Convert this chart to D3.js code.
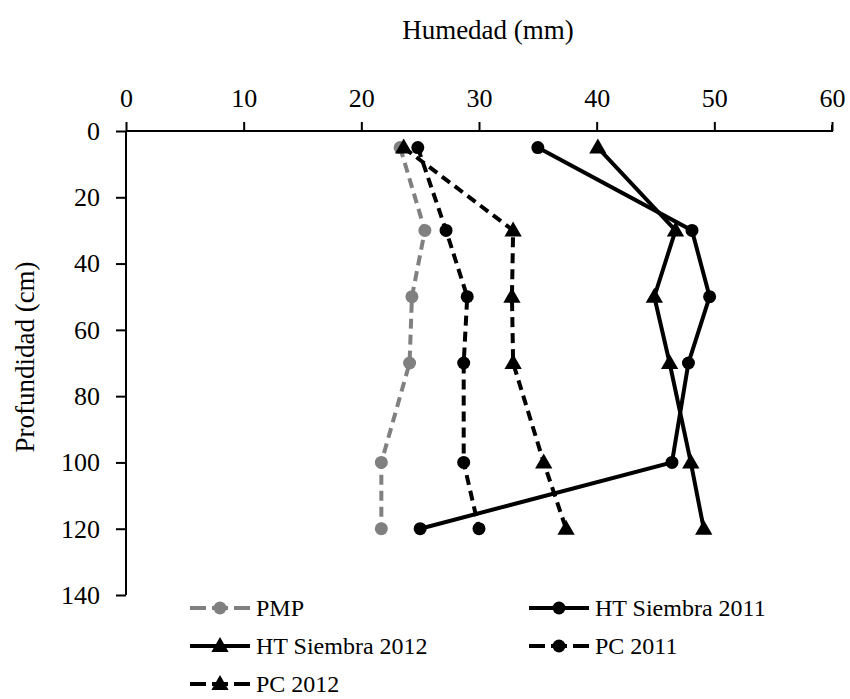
<!DOCTYPE html>
<html>
<head>
<meta charset="utf-8">
<script src="https://cdn.jsdelivr.net/npm/d3@7"></script>
<style>
  body { margin: 0; background: #fff; }
</style>
</head>
<body>
<div id="chart"></div>
<script>
// depth (cm) and moisture (mm) per series
const depths = [5, 30, 50, 70, 100, 120];
const pmp = [23.3, 25.4, 24.3, 24.1, 21.7, 21.7];
const ht2011 = [35.0, 48.1, 49.6, 47.8, 46.4, 25.0];
const ht2012 = [40.1, 46.7, 44.9, 46.2, 48.0, 49.1];
const pc2011 = [24.8, 27.2, 29.0, 28.7, 28.7, 30.0];
const pc2012 = [23.6, 32.9, 32.8, 32.9, 35.5, 37.4];
const seriesNames = ["PMP", "HT Siembra 2011", "HT Siembra 2012", "PC 2011", "PC 2012"];
const xTicks = [0, 10, 20, 30, 40, 50, 60];
const yTicks = [0, 20, 40, 60, 80, 100, 120, 140];

const width = 850, height = 699;
const serif = "Liberation Serif";

const series = [
  { name: seriesNames[0], vals: pmp, color: "#808080", dash: "10,6", shape: "circle" },
  { name: seriesNames[1], vals: ht2011, color: "#000", dash: null, shape: "circle" },
  { name: seriesNames[2], vals: ht2012, color: "#000", dash: null, shape: "triangle" },
  { name: seriesNames[3], vals: pc2011, color: "#000", dash: "10,6", shape: "circle" },
  { name: seriesNames[4], vals: pc2012, color: "#000", dash: "10,6", shape: "triangle" }
];

const x = d3.scaleLinear().domain([0, 60]).range([126, 832]);
const y = d3.scaleLinear().domain([0, 140]).range([131, 595]);

const svg = d3.select("#chart").append("svg")
  .attr("width", width)
  .attr("height", height);

// axes
const xAxis = svg.append("g")
  .attr("transform", `translate(0,${y(0)})`)
  .call(d3.axisTop(x).tickValues(xTicks).tickSize(9).tickPadding(15));
const yAxis = svg.append("g")
  .attr("transform", `translate(${x(0)},0)`)
  .call(d3.axisLeft(y).tickValues(yTicks).tickSize(10).tickPadding(16));

[xAxis, yAxis].forEach(g => {
  g.attr("font-family", null).attr("font-size", null);
  g.select(".domain").attr("stroke", "#000").attr("stroke-width", 2);
  g.selectAll(".tick line").attr("stroke", "#000").attr("stroke-width", 2);
  g.selectAll(".tick text")
    .attr("fill", "#000")
    .attr("font-family", serif)
    .attr("font-size", 26);
});
xAxis.select(".domain").attr("d", `M${x(0)},0H${x(60)}V-6`);
yAxis.select(".domain").attr("d", `M0,${y(0)}V${y(140)}`);

svg.append("text")
  .attr("x", 488).attr("y", 39)
  .attr("text-anchor", "middle")
  .attr("font-family", serif)
  .attr("font-size", 27)
  .text("Humedad (mm)");

svg.append("text")
  .attr("transform", `translate(34,357) rotate(-90)`)
  .attr("text-anchor", "middle")
  .attr("font-family", serif)
  .attr("font-size", 27)
  .text("Profundidad (cm)");

const line = d3.line()
  .x(d => x(d[0]))
  .y(d => y(d[1]));

const triangle = d3.symbol().type(d3.symbolTriangle).size(130);

function drawMarker(g, shape, color, cx, cy) {
  if (shape === "circle") {
    g.append("circle").attr("cx", cx).attr("cy", cy).attr("r", 6.5).attr("fill", color);
  } else {
    g.append("path").attr("d", triangle).attr("transform", `translate(${cx},${cy + 1})`).attr("fill", color);
  }
}

series.forEach(s => {
  const pts = s.vals.map((v, i) => [v, depths[i]]);
  const g = svg.append("g");
  g.append("path")
    .datum(pts)
    .attr("d", line)
    .attr("fill", "none")
    .attr("stroke", s.color)
    .attr("stroke-width", 4)
    .attr("stroke-dasharray", s.dash);
  pts.forEach(p => drawMarker(g, s.shape, s.color, x(p[0]), y(p[1])));
});

// legend
const legendPos = [
  [190, 608], [529, 608],
  [190, 646], [529, 646],
  [190, 684]
];
series.forEach((s, i) => {
  const [lx, ly] = legendPos[i];
  const g = svg.append("g");
  g.append("line")
    .attr("x1", lx).attr("x2", lx + 60)
    .attr("y1", ly).attr("y2", ly)
    .attr("stroke", s.color)
    .attr("stroke-width", 4)
    .attr("stroke-dasharray", s.dash ? "16,6" : null);
  drawMarker(g, s.shape, s.color, lx + 30, ly);
  g.append("text")
    .attr("x", lx + 66).attr("y", ly + 8)
    .attr("font-family", serif)
    .attr("font-size", 24)
    .text(s.name);
});
</script>
</body>
</html>
